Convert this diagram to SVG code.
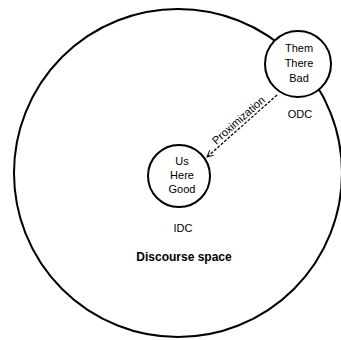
<svg xmlns="http://www.w3.org/2000/svg" width="341" height="340" viewBox="0 0 341 340">
<style>
.c{fill:#fff;stroke:#000;stroke-width:2}
.t{font-family:"Liberation Sans",Arial,sans-serif;font-size:11px;fill:#000;text-anchor:middle}
.b{font-weight:bold;font-size:12px}
.e{fill:none;stroke:#000;stroke-width:1.2;stroke-dasharray:3,1.5}
</style>
<defs>
<marker id="ah" viewBox="0 0 10 10" refX="9" refY="5" markerWidth="8" markerHeight="8" markerUnits="userSpaceOnUse" orient="auto">
<path d="M1,1 L9,5 L1,9" fill="none" stroke="#000" stroke-width="1.2"/>
</marker>
</defs>
<g id="discourse-space">
<circle class="c" cx="178" cy="173" r="164"/>
<text class="t b" x="184" y="261">Discourse space</text>
</g>
<g id="connectors">
<line class="e" x1="277" y1="95" x2="207" y2="157" marker-end="url(#ah)"/>
<text class="t" x="0" y="0" font-size="11.5" transform="translate(241,123) rotate(-41.5)">Proximization</text>
</g>
<g id="odc">
<circle class="c" cx="298" cy="64" r="33"/>
<text class="t" x="299" y="52">Them</text>
<text class="t" x="299" y="67">There</text>
<text class="t" x="299" y="82">Bad</text>
<text class="t" x="300" y="118">ODC</text>
</g>
<g id="idc">
<circle class="c" cx="179" cy="176" r="31"/>
<text class="t" x="182" y="165">Us</text>
<text class="t" x="182" y="179">Here</text>
<text class="t" x="182" y="193">Good</text>
<text class="t" x="183" y="232">IDC</text>
</g>
</svg>
